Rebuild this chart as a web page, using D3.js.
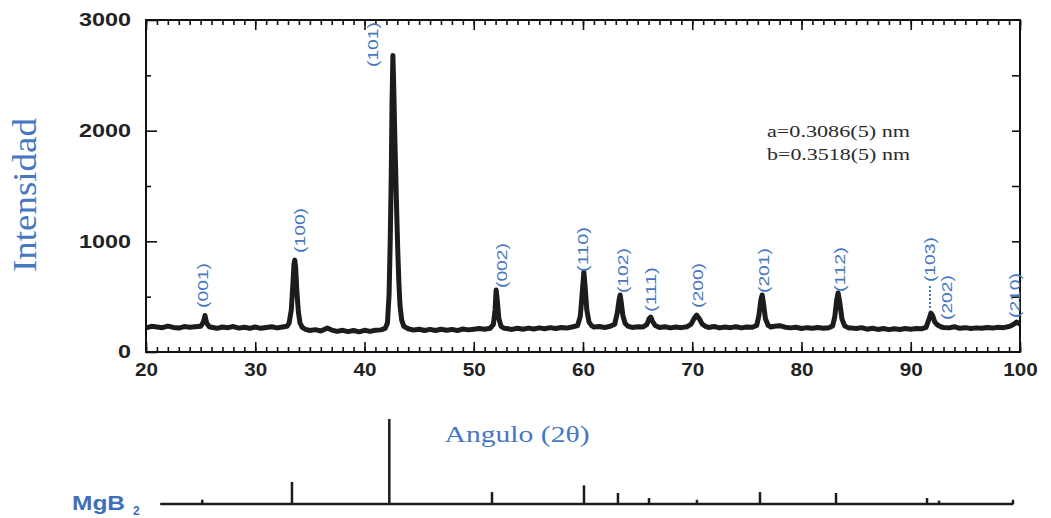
<!DOCTYPE html>
<meta charset="utf-8">
<html>
<head>
<script src="https://cdn.jsdelivr.net/npm/d3@7"></script>
<style>
  body { margin: 0; background: #fff; }
  .tick text { font-family: "Liberation Sans", Arial, sans-serif; font-weight: bold; font-size: 18px; fill: #222; }
  .serif { font-family: "Liberation Serif", "Times New Roman", serif; }
</style>
</head>
<body>
<script>
var scan = [
  [20.0,218],[20.5,232],[21.0,226],[21.5,220],[22.0,234],[22.5,222],[23.0,216],[23.5,230],[24.0,224],[24.5,228],
  [25.0,232],[25.25,270],[25.4,330],[25.55,262],[25.8,228],[26.0,224],[26.5,214],[27.0,226],[27.5,220],[28.0,230],
  [28.5,216],[29.0,224],[29.5,214],[30.0,226],[30.5,214],[31.0,222],[31.5,228],[32.0,218],[32.5,226],[32.9,232],
  [33.1,262],[33.3,380],[33.45,620],[33.55,800],[33.62,830],[33.7,760],[33.8,560],[33.95,360],[34.1,262],[34.3,222],
  [34.6,204],[35.0,194],[35.5,202],[36.0,190],[36.6,216],[37.0,198],[37.5,186],[38.0,196],[38.5,184],[39.0,194],
  [39.5,182],[40.0,196],[40.5,186],[41.0,196],[41.5,200],[41.9,214],[42.1,262],[42.25,520],[42.35,980],[42.45,1600],
  [42.52,2250],[42.6,2680],[42.68,2380],[42.76,2000],[42.85,1650],[42.95,1250],[43.05,900],[43.15,620],[43.25,420],[43.4,290],
  [43.6,232],[44.0,210],[44.5,198],[45.0,206],[45.5,194],[46.0,204],[46.5,194],[47.0,206],[47.5,196],[48.0,204],
  [48.5,194],[49.0,208],[49.5,200],[50.0,206],[50.5,212],[51.0,206],[51.5,214],[51.8,250],[51.95,380],[52.05,560],
  [52.15,470],[52.3,300],[52.5,232],[52.8,214],[53.0,212],[53.5,204],[54.0,214],[54.5,206],[55.0,216],[55.5,208],
  [56.0,218],[56.5,210],[57.0,220],[57.5,212],[58.0,222],[58.5,216],[59.0,226],[59.5,238],[59.75,320],[59.95,560],
  [60.08,723],[60.2,580],[60.35,380],[60.55,270],[60.8,236],[61.0,226],[61.5,230],[62.0,222],[62.5,232],[62.9,250],
  [63.15,360],[63.3,470],[63.4,515],[63.5,450],[63.65,330],[63.85,260],[64.1,234],[64.5,222],[65.0,228],[65.5,226],
  [65.85,250],[66.05,300],[66.2,316],[66.35,280],[66.6,240],[67.0,222],[67.5,228],[68.0,218],[68.5,226],[69.0,220],
  [69.5,228],[69.9,252],[70.15,300],[70.4,334],[70.65,300],[70.9,254],[71.2,232],[71.5,222],[72.0,230],[72.5,218],
  [73.0,226],[73.5,220],[74.0,228],[74.5,218],[75.0,226],[75.5,224],[75.9,240],[76.1,330],[76.28,470],[76.4,515],
  [76.52,440],[76.7,300],[76.95,240],[77.2,226],[77.5,232],[78.0,238],[78.5,224],[79.0,218],[79.5,224],[80.0,212],
  [80.5,220],[81.0,214],[81.5,222],[82.0,214],[82.5,220],[82.85,236],[83.05,320],[83.22,470],[83.35,533],[83.5,450],
  [83.7,300],[83.95,236],[84.3,218],[84.5,218],[85.0,212],[85.5,220],[86.0,206],[86.5,214],[87.0,204],[87.5,212],
  [88.0,202],[88.5,210],[89.0,204],[89.5,212],[90.0,206],[90.5,212],[91.0,210],[91.4,222],[91.65,290],[91.85,352],
  [92.0,330],[92.2,270],[92.45,244],[92.8,226],[93.0,222],[93.5,218],[94.0,228],[94.5,214],[95.0,220],[95.5,212],
  [96.0,218],[96.5,214],[97.0,222],[97.5,216],[98.0,224],[98.5,220],[99.0,230],[99.35,246],[99.7,271],[100.0,250]
];

// Miller index labels: text, 2theta where it sits, counts at its lower end
var hkl       = ["(001)","(100)","(101)","(002)","(110)","(102)","(111)","(200)","(201)","(112)","(103)","(202)","(210)"];
var hklAngle  = [25.22, 34.10, 40.78, 52.59, 60.0, 63.66, 66.22, 70.53, 76.57, 83.52, 91.76, 93.32, 99.54];
var hklCounts = [398, 895, 2575, 578, 723, 533, 361, 398, 533, 542, 632, 289, 307];

// MgB2 reference pattern (sticks)
var refAngle = [25.15, 33.36, 42.27, 51.67, 60.09, 63.2, 66.04, 70.43, 76.2, 83.16, 91.49, 92.59, 99.36];
var refRel   = [5, 26, 100, 14, 22, 13, 7, 5, 14, 13, 7, 4, 5];

var xTicks = [20, 30, 40, 50, 60, 70, 80, 90, 100];
var yTicks = [0, 1000, 2000, 3000];
var cell = ["a=0.3086(5) nm", "b=0.3518(5) nm"];

var W = 1051, H = 518;
var blue = "#4677c0";

var svg = d3.select("body").append("svg")
    .attr("width", W).attr("height", H);

var x = d3.scaleLinear().domain([20, 100]).range([146, 1020]);
var y = d3.scaleLinear().domain([0, 3000]).range([352, 20]);
var yr = d3.scaleLinear().domain([0, 100]).range([504, 419]);

// frame
svg.append("rect")
    .attr("x", x(20)).attr("y", y(3000))
    .attr("width", x(100) - x(20)).attr("height", y(0) - y(3000))
    .attr("fill", "none").attr("stroke", "#111").attr("stroke-width", 2);

function styleAxis(g) {
  g.select(".domain").remove();
  g.selectAll(".tick line").attr("stroke", "#111").attr("stroke-width", 1.6);
}

// minor ticks every degree, bottom and top
svg.append("g").attr("transform", "translate(0," + y(0) + ")")
    .call(d3.axisBottom(x).tickValues(d3.range(20, 101, 1)).tickSize(-5).tickFormat(""))
    .call(styleAxis);
svg.append("g").attr("transform", "translate(0," + y(3000) + ")")
    .call(d3.axisTop(x).tickValues(d3.range(20, 101, 1)).tickSize(-5).tickFormat(""))
    .call(styleAxis);

var xAxis = svg.append("g").attr("transform", "translate(0," + y(0) + ")")
    .call(d3.axisBottom(x).tickValues(xTicks).tickSize(-10).tickPadding(11).tickFormat(d3.format("d")))
    .call(styleAxis);
xAxis.selectAll(".tick text")
    .attr("textLength", function (d) { return String(d).length * 11.5; })
    .attr("lengthAdjust", "spacingAndGlyphs");

svg.append("g").attr("transform", "translate(0," + y(3000) + ")")
    .call(d3.axisTop(x).tickValues(xTicks).tickSize(-10).tickFormat(""))
    .call(styleAxis);

// left axis: labelled every 1000, minor every 500
svg.append("g").attr("transform", "translate(" + x(20) + ",0)")
    .call(d3.axisLeft(y).tickValues(d3.range(500, 3000, 1000)).tickSize(-5).tickFormat(""))
    .call(styleAxis);
var yAxis = svg.append("g").attr("transform", "translate(" + x(20) + ",0)")
    .call(d3.axisLeft(y).tickValues(yTicks).tickSize(-11).tickPadding(15).tickFormat(d3.format("d")))
    .call(styleAxis);
yAxis.selectAll(".tick text")
    .attr("textLength", function (d) { return String(d).length * 13; })
    .attr("lengthAdjust", "spacingAndGlyphs");

svg.append("g").attr("transform", "translate(" + x(100) + ",0)")
    .call(d3.axisRight(y).tickValues(d3.range(500, 3000, 500)).tickSize(-8).tickFormat(""))
    .call(styleAxis);

// scan trace
var line = d3.line()
    .x(function (d) { return x(d[0]); })
    .y(function (d) { return y(d[1]); });

svg.append("path")
    .datum(scan)
    .attr("d", line)
    .attr("fill", "none")
    .attr("stroke", "#1c1c1c")
    .attr("stroke-width", 5)
    .attr("stroke-linejoin", "round");

// hkl labels
svg.selectAll(".hkl")
    .data(hkl)
    .enter().append("text")
    .attr("class", "hkl")
    .attr("transform", function (d, i) {
      return "translate(" + x(hklAngle[i]) + "," + y(hklCounts[i]) + ") rotate(-90)";
    })
    .attr("dy", "0.35em")
    .attr("text-anchor", "start")
    .attr("textLength", 45)
    .attr("lengthAdjust", "spacingAndGlyphs")
    .style("font-family", "Liberation Sans, Arial, sans-serif")
    .style("font-size", "14px")
    .style("fill", blue)
    .text(function (d) { return d; });

// short dotted leader under (103)
svg.append("line")
    .attr("x1", x(hklAngle[10])).attr("x2", x(hklAngle[10]))
    .attr("y1", y(hklCounts[10]) + 4).attr("y2", y(hklCounts[10]) + 26)
    .attr("stroke", blue).attr("stroke-width", 2).attr("stroke-dasharray", "2,2");

// lattice parameters
svg.selectAll(".cell")
    .data(cell)
    .enter().append("text")
    .attr("x", 767)
    .attr("y", function (d, i) { return 137 + i * 23; })
    .attr("textLength", 143)
    .attr("lengthAdjust", "spacingAndGlyphs")
    .style("font-family", "Liberation Serif, Times New Roman, serif")
    .style("font-size", "17px")
    .style("fill", "#2a2a2a")
    .text(function (d) { return d; });

// axis titles
svg.append("text")
    .attr("transform", "translate(36,195) rotate(-90)")
    .attr("text-anchor", "middle")
    .attr("textLength", 154)
    .attr("lengthAdjust", "spacingAndGlyphs")
    .style("font-family", "Liberation Serif, Times New Roman, serif")
    .style("font-size", "33px")
    .style("fill", blue)
    .text("Intensidad");

svg.append("text")
    .attr("x", 517).attr("y", 442)
    .attr("text-anchor", "middle")
    .attr("textLength", 145)
    .attr("lengthAdjust", "spacingAndGlyphs")
    .style("font-family", "Liberation Serif, Times New Roman, serif")
    .style("font-size", "23px")
    .style("fill", blue)
    .text("Angulo (2\u03B8)");

// MgB2 stick pattern
svg.append("line")
    .attr("x1", x(21.3)).attr("x2", x(99.4))
    .attr("y1", yr(0)).attr("y2", yr(0))
    .attr("stroke", "#1c1c1c").attr("stroke-width", 2.5);

svg.selectAll(".stick")
    .data(refAngle)
    .enter().append("line")
    .attr("x1", function (d) { return x(d); })
    .attr("x2", function (d) { return x(d); })
    .attr("y1", yr(0))
    .attr("y2", function (d, i) { return yr(refRel[i]); })
    .attr("stroke", "#1c1c1c").attr("stroke-width", 2.5);

var mg = svg.append("text")
    .attr("x", 72).attr("y", 510)
    .style("font-family", "Liberation Sans, Arial, sans-serif")
    .style("font-weight", "bold")
    .style("font-size", "20px")
    .style("fill", "#3f6fb8");
mg.append("tspan").attr("textLength", 53).attr("lengthAdjust", "spacingAndGlyphs").text("MgB");
mg.append("tspan").attr("x", 133).attr("y", 515).style("font-size", "12px").text("2");
</script>
</body>
</html>
